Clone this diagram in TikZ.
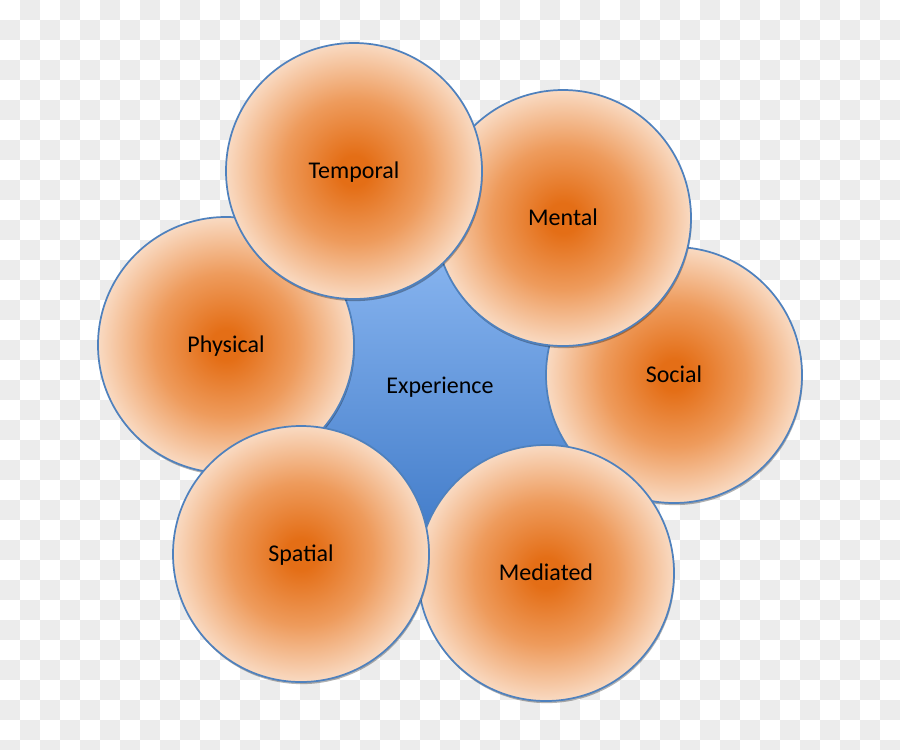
\documentclass[tikz,border=0pt]{standalone}
\usepackage{fontspec}
\setmainfont{Carlito}
\usetikzlibrary{shadows}
\definecolor{ringblue}{RGB}{79,129,189}
\definecolor{coreorange}{RGB}{228,110,22}
\definecolor{midorange}{RGB}{238,155,92}
\definecolor{rimpeach}{RGB}{249,218,194}
\definecolor{hubtop}{RGB}{150,192,247}
\definecolor{hubbottom}{RGB}{56,116,196}
\definecolor{checkgray}{RGB}{236,236,236}
\pgfdeclareradialshading{petalfill}{\pgfpoint{0bp}{0bp}}{color(0bp)=(coreorange); color(3bp)=(coreorange); color(14bp)=(midorange); color(25bp)=(rimpeach); color(50bp)=(rimpeach)}

\begin{document}
\begin{tikzpicture}[x=0.75pt,y=-0.75pt,font=\fontsize{18}{22}\selectfont,
  petal/.style={circle,draw=ringblue,line width=1.3pt,shading=petalfill,
    minimum size=192pt,inner sep=0pt,text height=11.5pt,text depth=0pt,
    drop shadow={shadow xshift=0.6pt,shadow yshift=-1.6pt,opacity=0.3,fill=black}},
  hub/.style={circle,draw=none,top color=hubtop,bottom color=hubbottom,
    minimum size=285pt,inner sep=0pt,text height=11.5pt,text depth=0pt}]
  \useasboundingbox (0,0) rectangle (900,750);
  % transparency backdrop
  \begin{scope}
    \clip (0,0) rectangle (900,750);
    \fill[white] (0,0) rectangle (900,750);
    \foreach \i in {0,...,44}
      \foreach \j in {0,...,37}{
        \pgfmathtruncatemacro{\cellodd}{mod(\i+\j,2)}
        \ifnum\cellodd=1 \fill[checkgray] (20*\i,20*\j) rectangle ++(20,20); \fi
      }
  \end{scope}
  % hub
  \node[hub] (experience) at (440,386) {Experience};
  % petals, bottom to top
  \node[petal] (social) at (674,375) {Social};
  \node[petal] (mental) at (563,218) {Mental};
  \node[petal] (mediated) at (546,573) {Mediated};
  \node[petal] (physical) at (226,345) {Physical};
  \node[petal] (temporal) at (354,171) {Temporal};
  \node[petal] (spatial) at (301,554) {Spatial};
\end{tikzpicture}
\end{document}
